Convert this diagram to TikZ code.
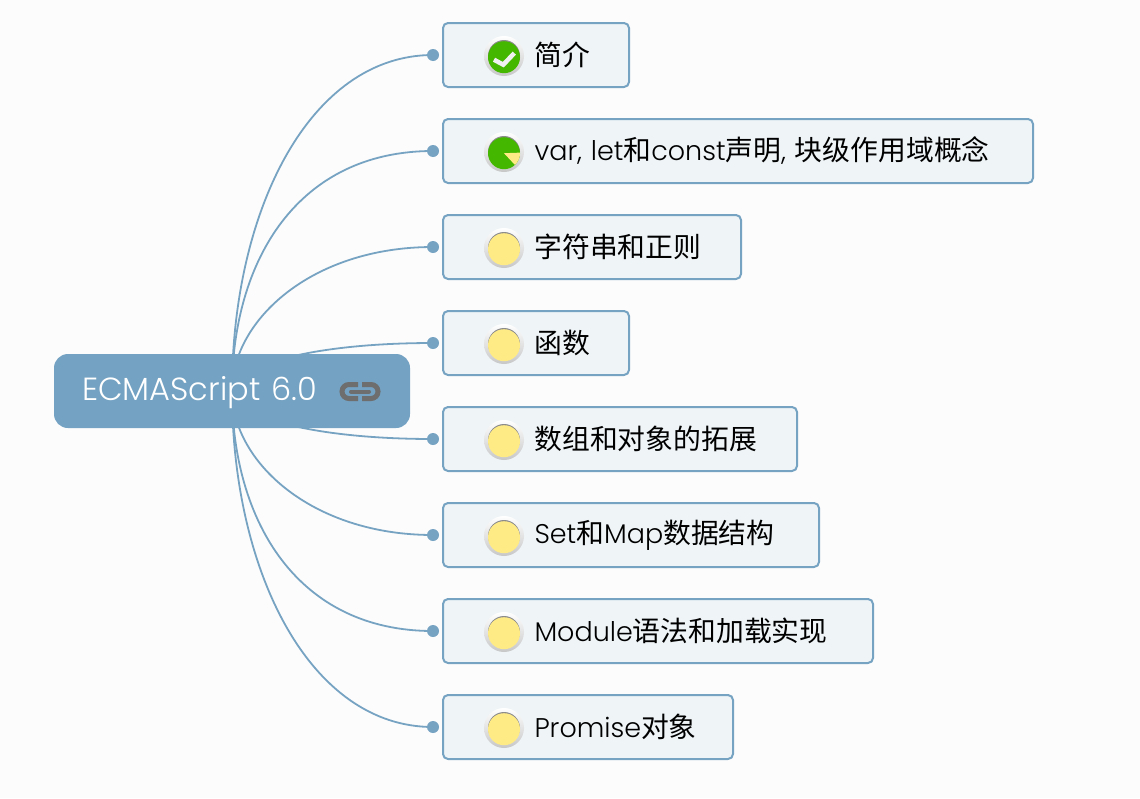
\documentclass[tikz,border=0pt]{standalone}
\usepackage{fontspec}
\setmainfont{Poppins}[UprightFont=* Light]
\newfontfamily\cjk[Scale=1.03]{Noto Sans CJK SC}
\newcommand{\zh}[1]{{\cjk #1}}
\usetikzlibrary{backgrounds}
\definecolor{branchblue}{HTML}{77A3C3}
\definecolor{rootblue}{HTML}{74A2C2}
\definecolor{topicfill}{HTML}{EFF4F7}
\definecolor{pagefill}{HTML}{FCFCFC}
\definecolor{donegreen}{HTML}{44B700}
\definecolor{pendingyellow}{HTML}{FFEB85}
\definecolor{linkgrey}{HTML}{6E6E6E}
\begin{document}
\begin{tikzpicture}
		[x=1pt,y=-1pt,
			rootnode/.style={rectangle,rounded corners=14pt,fill=rootblue,text=white,font=\fontsize{32}{36}\selectfont,minimum width=356pt,minimum height=74pt,inner sep=0pt,text width=300pt,text height=26pt,text depth=7pt,align=left},
			topicnode/.style={rectangle,rounded corners=5pt,draw=branchblue,line width=2pt,fill=topicfill,font=\fontsize{27}{32}\selectfont,minimum height=64pt,inner xsep=0pt,anchor=west,align=left},
			branchdot/.style={circle,fill=branchblue,minimum size=12pt,inner sep=0pt},
			branch/.style={draw=branchblue,line width=1.8pt},
			iconbase/.style={circle,top color=white,bottom color=black!22,minimum size=40pt,inner sep=0pt},
			iconrim/.style={circle,fill=black!45,minimum size=32pt,inner sep=0pt},
			statusicon/.style={circle,fill=#1,minimum size=32pt,inner sep=0pt}]
	\useasboundingbox (0,0) rectangle (1140,798);
	\foreach \i/\w/\txt in {1/186/{\zh{简介}},
		2/590/{var, let\zh{和}const\zh{声明}, \zh{块级作用域概念}},
		3/298/{\zh{字符串和正则}},
		4/186/{\zh{函数}},
		5/354/{\zh{数组和对象的拓展}},
		6/376/{Set\zh{和}Map\zh{数据结构}},
		7/430/{Module\zh{语法和加载实现}},
		8/290/{Promise\zh{对象}}}
	{
		\pgfmathsetmacro{\ypos}{55+96*(\i-1)}
		\node[topicnode,text width=\w pt] (topic\i) at (442,\ypos) {\hspace*{91.5pt}\txt};
		\node[branchdot] (dot\i) at ([xshift=-9pt]topic\i.west) {};
		\node[iconbase] (base\i) at ([xshift=62pt,yshift=-1pt]topic\i.west) {};
		\node[iconrim] at (base\i.center) {};
		\ifnum\i>2
			\node[statusicon=pendingyellow] (icon\i) at ([yshift=-1.2pt]base\i.center) {};
		\else
			\node[statusicon=donegreen] (icon\i) at ([yshift=-1.2pt]base\i.center) {};
		\fi
	}
	% root sits over the branches
	\node[rootnode] (root) at (232,391) {ECMAScript 6.0};
	\begin{scope}[on background layer]
		\fill[pagefill] (0,0) rectangle (1140,798);
		\foreach \i/\py/\c in {1/-181/123,2/-131/135,3/-71/121,4/-24/125,5/24/125,6/71/121,7/131/135,8/181/123}
		{
			\draw[branch] (root.center) .. controls +(0,\py) and +(-\c,0) .. (dot\i.center);
		}
	\end{scope}
	% check mark and pie wedge
	\draw[white!94!black,line width=4.5pt] ([xshift=-10pt,yshift=-2.5pt]icon1.center) -- ([xshift=-0.7pt,yshift=-7.5pt]icon1.center) -- ([xshift=10.3pt,yshift=4.1pt]icon1.center);
	\fill[pendingyellow] (icon2.center) -- ++(2:16pt) arc[start angle=2,end angle=-47,radius=16pt] -- cycle;
	% link symbol
	\draw[linkgrey,line width=5pt,rounded corners=7pt] (358,384.5) -- (342,384.5) -- (342,398.5) -- (358,398.5);
	\draw[linkgrey,line width=5pt,rounded corners=7pt] (362,384.5) -- (378,384.5) -- (378,398.5) -- (362,398.5);
	\draw[linkgrey,line width=4pt,line cap=round] (351,391.5) -- (369,391.5);
\end{tikzpicture}
\end{document}
